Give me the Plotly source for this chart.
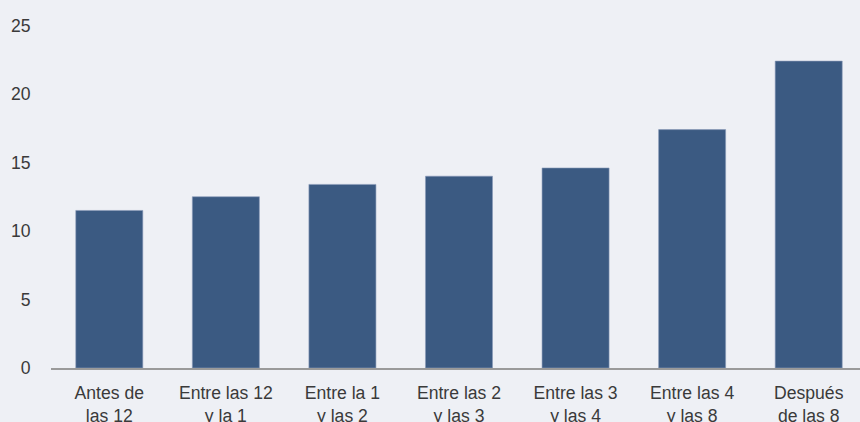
import plotly.graph_objects as go

categories = ["Antes de<br>las 12", "Entre las 12<br>y la 1", "Entre la 1<br>y las 2",
              "Entre las 2<br>y las 3", "Entre las 3<br>y las 4", "Entre las 4<br>y las 8",
              "Después<br>de las 8"]
values = [11.5, 12.5, 13.4, 14.0, 14.6, 17.4, 22.4]
y_ticks = [0, 5, 10, 15, 20, 25]

fig = go.Figure(go.Bar(
    x=list(range(len(categories))), y=values,
    marker=dict(color="#3b5a82", line=dict(color="#8a9bb8", width=0.6)),
))

fig.update_layout(
    width=860, height=422,
    margin=dict(l=51, r=0, t=0, b=54),
    paper_bgcolor="#eef0f5", plot_bgcolor="#eef0f5",
    bargap=0.425,
    showlegend=False,
    font=dict(family="Liberation Sans, Arial, sans-serif", size=17.6, color="#3a3a3a"),
    xaxis=dict(
        range=[-0.5, 6.44], automargin=False,
        tickmode="array", tickvals=list(range(len(categories))), ticktext=categories,
        showgrid=False, zeroline=False,
        showline=True, linecolor="#9a9a9a", linewidth=2,
        ticks="outside", ticklen=8, tickcolor="rgba(0,0,0,0)",
    ),
    yaxis=dict(
        range=[0, 26.86], automargin=False,
        tickmode="array", tickvals=y_ticks,
        showgrid=False, zeroline=False, showline=False,
        ticks="outside", ticklen=16, tickcolor="rgba(0,0,0,0)",
    ),
)

fig.write_html(
    "out.html",
    config={"displayModeBar": False},
    post_script="document.body.style.margin='0';document.body.style.background='#eef0f5';",
)
